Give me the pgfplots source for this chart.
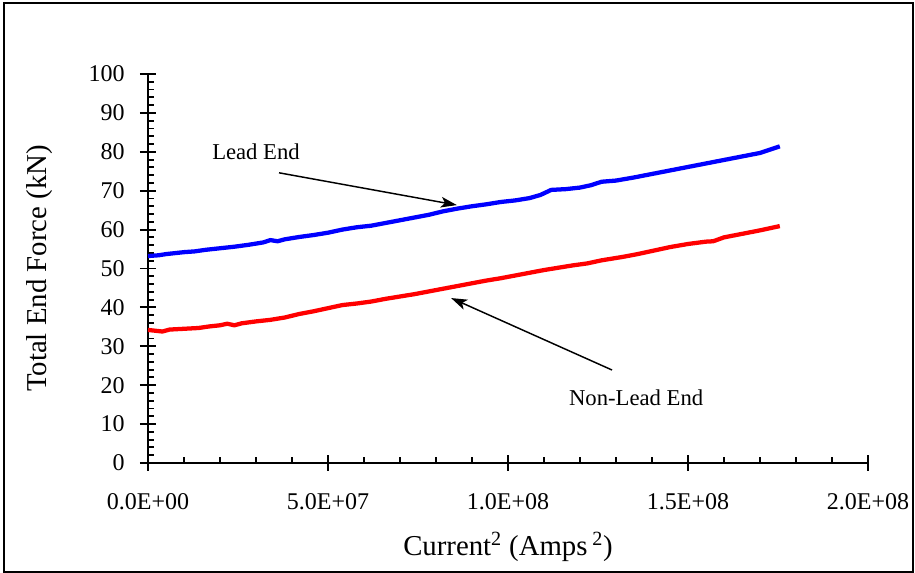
\documentclass[border=0pt]{standalone}
\usepackage{pgfplots}
\pgfplotsset{compat=1.18}
\usepackage{fontspec}
\setmainfont{Liberation Serif}
\usetikzlibrary{arrows.meta}

\pgfplotstableread{
x y
0 53.2
3 53.4
5 53.7
8 54.0
10 54.2
13 54.4
16 54.8
20 55.2
24 55.6
28 56.1
32 56.7
34 57.3
36 57.0
38 57.5
42 58.1
46 58.6
50 59.2
54 60.0
58 60.6
62 61.0
66 61.7
70 62.4
74 63.1
78 63.8
82 64.7
86 65.4
90 66.0
94 66.5
98 67.1
102 67.5
106 68.1
109 68.9
112 70.2
116 70.4
120 70.8
123 71.4
126 72.3
130 72.6
135 73.4
140 74.3
145 75.2
150 76.1
155 77.0
160 77.9
165 78.8
170 79.7
175.5 81.4
}\leadend

\pgfplotstableread{
x y
0 34.2
2 34.0
4 33.8
6 34.3
10 34.5
14 34.7
17 35.1
20 35.4
22 35.8
24 35.4
26 35.9
30 36.4
34 36.8
38 37.4
42 38.3
46 39.0
50 39.8
54 40.6
58 41.0
62 41.5
66 42.2
70 42.8
74 43.4
78 44.1
82 44.8
86 45.5
90 46.2
94 46.9
98 47.5
102 48.2
106 48.9
110 49.6
114 50.2
118 50.8
122 51.3
126 52.1
132 53.0
136 53.7
140 54.5
145 55.5
150 56.3
155 56.9
157 57.0
160 58.0
165 58.9
170 59.8
175.5 60.9
}\nonleadend

\begin{document}
\begin{tikzpicture}
\useasboundingbox (0,0) rectangle (686.25pt,429.75pt);
\draw[line width=1.5pt] (3pt,0.75pt) rectangle (684.75pt,427.5pt);
\begin{axis}[
  at={(111pt,82.5pt)}, anchor=south west,
  scale only axis,
  width=540pt, height=291.75pt,
  xmin=0, xmax=200, ymin=0, ymax=100,
  axis x line*=bottom, axis y line*=left,
  axis line style={-, line width=1.6pt},
  xtick={0,50,100,150,200},
  xticklabels={0.0E+00,5.0E+07,1.0E+08,1.5E+08,2.0E+08},
  ytick={0,10,...,100},
  minor x tick num=4,
  minor y tick num=4,
  tick align=center,
  major tick length=12pt,
  minor tick length=4.5pt,
  every tick/.style={black, line width=1.4pt},
  every minor y tick/.append style={xshift=2.25pt},
  every minor x tick/.append style={yshift=2.25pt},
  /pgf/number format/assume math mode=true,
  tick label style={font=\fontsize{18}{20}\selectfont},
  yticklabel style={xshift=-8pt},
  xticklabel style={yshift=-13.5pt},
  xlabel={Current\textsuperscript{2} (Amps\,\textsuperscript{2})},
  ylabel={Total End Force (kN)},
  label style={font=\fontsize{21.6}{24}\selectfont},
  xlabel style={at={(axis description cs:0.5,-0.216)}, anchor=center},
  ylabel style={at={(axis description cs:-0.15,0.5)}, anchor=center, rotate=0},
  clip=false,
]
\addplot[blue, line width=3.2pt, line join=round] table[x=x,y=y] {\leadend};
\addplot[red, line width=3.2pt, line join=round] table[x=x,y=y] {\nonleadend};
\node[font=\fontsize{17}{19}\selectfont] at (axis cs:30,79.9) {Lead End};
\node[font=\fontsize{17}{19}\selectfont] at (axis cs:135.6,16.7) {Non-Lead End};
\draw[line width=1.1pt, -{Stealth[length=12pt,width=8pt,inset=3pt]}] (axis cs:36.4,74.6) -- (axis cs:85.8,66.3);
\draw[line width=1.1pt, -{Stealth[length=12pt,width=8pt,inset=3pt]}] (axis cs:128.9,23.9) -- (axis cs:84.2,42.4);
\end{axis}
\end{tikzpicture}
\end{document}
